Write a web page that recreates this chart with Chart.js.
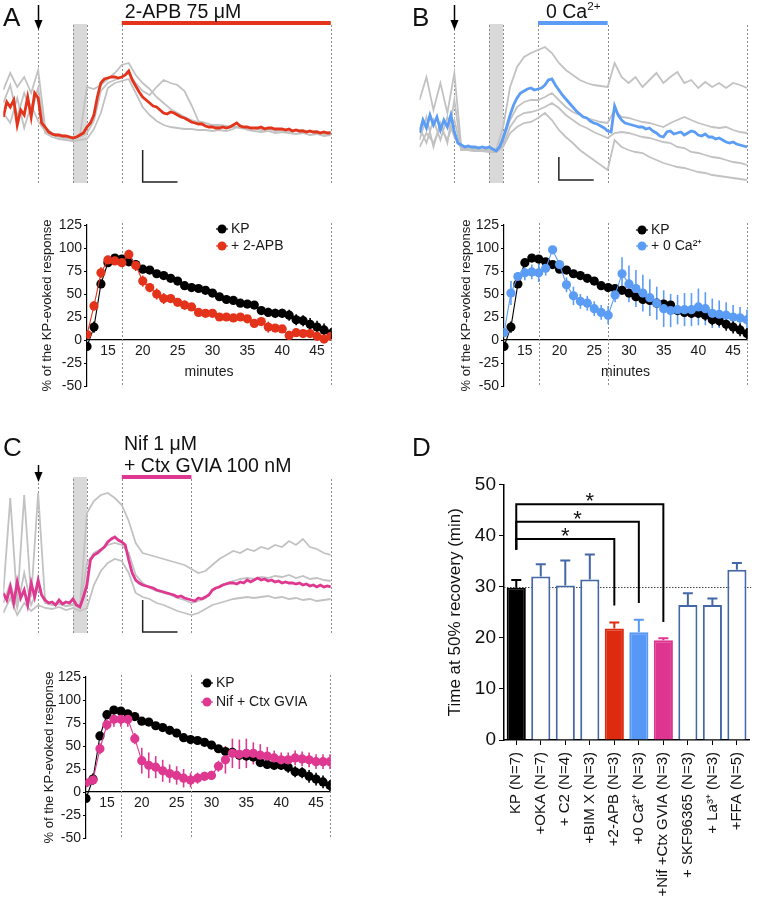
<!DOCTYPE html>
<html><head><meta charset="utf-8">
<script src="https://cdn.jsdelivr.net/npm/chart.js@4.4.1/dist/chart.umd.min.js"></script>
<style>
html,body{margin:0;padding:0;background:#fff}
body{width:762px;height:918px;position:relative;overflow:hidden;font-family:"Liberation Sans",Arial,Helvetica,sans-serif;color:#111}
canvas{position:absolute}
.t{position:absolute;white-space:nowrap;line-height:1}
.let{font-size:26px}
sup{font-size:0.6em;vertical-align:0.7em;line-height:0}
</style></head><body>
<canvas id="ta" width="340" height="190" style="left:0;top:0"></canvas>
<canvas id="tb" width="382" height="190" style="left:380px;top:0"></canvas>
<canvas id="tc" width="340" height="210" style="left:0;top:430px"></canvas>
<canvas id="la" width="340" height="190" style="left:0;top:212px"></canvas>
<canvas id="lb" width="342" height="190" style="left:420px;top:212px"></canvas>
<canvas id="lc" width="340" height="190" style="left:0;top:664px"></canvas>
<canvas id="bd" width="332" height="448" style="left:430px;top:470px"></canvas>
<div class="t let" style="left:3px;top:3.6px">A</div>
<div class="t let" style="left:412px;top:3.6px">B</div>
<div class="t let" style="left:3px;top:433.6px">C</div>
<div class="t let" style="left:412px;top:433.6px">D</div>
<div class="t" style="left:183px;top:1.5px;font-size:19.5px;transform:translateX(-50%)">2-APB 75 μM</div>
<div class="t" style="left:546px;top:1.5px;font-size:19.5px">0 Ca<sup>2+</sup></div>
<div class="t" style="left:124px;top:433.5px;font-size:19.5px">Nif 1 μM</div>
<div class="t" style="left:124px;top:455.5px;font-size:19.5px">+ Ctx GVIA 100 nM</div>
<script>
// ===================== DATA =====================
// Line plots (minutes 12..47)
const minutes = [12,13,14,15,16,17,18,19,20,21,22,23,24,25,26,27,28,29,30,31,32,33,34,35,36,37,38,39,40,41,42,43,44,45,46,47];
const xTickValues = [15,20,25,30,35,40,45];
const kpMean = [-7,14,61,84,89,88,85,82,77,76,72,70,67,64,59,57,56,54,51,47,44,43,40,39,38,32,30,29,29,27,22,21,17,14,11,7];
const kpErr  = [3,6,3,3,2,2,3,2,2,2,2,2,2,2,2,2,2,2,3,3,3,3,3,4,4,4,5,5,5,6,6,6,7,7,7,6];
const apbMean = [6,37,73,87,86,84,93,81,64,57,50,45,45,41,38,36,30,29,29,25,25,24,25,23,18,20,14,13,12,5,8,7,7,4,1,4];
const apbErr  = [4,5,6,4,3,4,5,6,6,5,6,6,3,4,5,4,3,3,3,3,3,3,3,3,3,4,6,4,4,5,4,3,3,3,4,3];
const caMean = [8,51,69,73,74,73,78,98,82,60,48,42,40,34,30,27,49,72,61,56,51,46,40,34,32,33,33,33,36,34,29,28,27,25,24,22];
const caErr  = [5,13,5,8,8,10,8,3,5,8,10,8,8,8,8,10,8,18,20,20,20,20,18,20,18,16,18,18,20,18,16,15,14,13,12,11];
const nifMean = [10,13,47,73,79,79,79,58,34,29,27,23,20,18,15,13,15,17,18,28,35,42,41,42,42,40,39,37,35,35,37,36,35,33,33,33];
const nifErr  = [3,4,6,6,8,8,8,6,14,14,12,12,10,10,10,8,6,5,5,6,15,16,16,16,12,12,10,8,8,8,8,8,8,8,8,8];
const lineMarksA = [17,47];
const lineMarksBC = [17,27,47];

// Traces (time 0..47 min; colored sampled every 0.5 min, gray every 1 min; arbitrary fluorescence units)
const traceStepColored = 0.5, traceStepGray = 1;
const traceA_red = [66,81,76,83,58,73,68,86,66,90, 85,60,56,51,49,48,48,47,47,46, 45,46,48,50,56,60,68,86,100,104,
 105,106,106,105,106,108,112,103,97,91, 86,83,80,77,76,73,70,69,71,70, 68,66,65,63,61,60,59,59,57,56,
 56,55,55,56,55,56,58,60,57,56, 56,55,55,55,56,54,55,55,54,54, 54,53,54,52,53,52,52,51,52,51, 51,50,51,50,50];
const traceA_gray1 = [93,110,96,106,90,113,56,50,48,47, 46,47,96,94,98,104,110,118,120,108, 100,94,86,80,74,70,66,63,61,60, 58,58,57,56,56,55,55,54,55,53, 54,53,52,53,51,52,50,51];
const traceA_gray2 = [70,60,85,55,78,62,52,48,46,45, 44,46,50,62,92,100,103,106,110,100, 92,88,96,103,100,98,92,78,62,60, 57,56,55,56,55,54,55,53,54,52, 53,51,52,50,51,50,49,50];
const traceA_gray3 = [80,98,66,90,70,95,50,46,44,43, 42,43,44,54,70,95,100,102,104,90, 76,68,62,58,56,55,54,54,53,53, 52,53,52,54,58,53,52,51,52,50, 51,50,49,50,48,49,47,48];
const traceB_blue = [50,63,55,68,58,66,53,63,56,68, 51,40,38,36,37,36,36,35,36,35, 36,34,32,36,45,56,68,78,85,90,
 92,94,95,93,94,95,98,103,104,98, 93,88,84,80,76,72,69,66,65,62, 60,59,57,55,52,51,77,68,63,60,
 59,58,57,56,56,54,55,52,50,47, 46,51,52,49,50,51,48,50,52,51, 48,47,49,46,46,44,45,43,41,40, 41,39,38,37,36];
const traceB_gray1 = [83,106,73,100,70,110,36,36,35,36, 35,33,56,96,116,126,130,133,136,130, 120,113,108,103,100,98,97,96,120,106, 100,106,96,103,110,100,106,111,100,103, 95,101,96,100,95,100,98,95];
const traceB_gray2 = [56,40,63,43,66,46,35,34,34,33, 33,31,43,63,76,81,83,83,86,90, 83,76,71,68,65,63,61,60,73,66, 65,63,61,60,58,56,60,63,66,63, 60,58,56,55,56,53,51,50];
const traceB_gray3 = [43,66,36,60,40,83,33,33,32,32, 31,31,38,56,66,70,71,73,76,80, 75,68,63,58,55,51,48,45,50,51, 50,48,46,45,43,41,40,36,35,31, 30,28,26,25,23,21,20,18];
const traceB_gray4 = [36,50,40,56,43,63,33,33,32,33, 32,31,36,50,56,60,61,65,70,63, 53,46,40,33,28,23,18,13,43,36, 33,31,30,26,23,20,18,16,15,13, 11,10,8,7,6,5,4,3];
const traceC_pink = [40,33,46,30,51,35,43,28,50,36, 53,38,33,30,31,28,33,29,31,30, 34,28,26,36,48,73,78,80,83,86,
 91,94,96,93,91,88,73,60,53,50, 48,47,46,45,43,42,41,40,39,38, 36,37,35,34,33,32,35,34,36,38,
 43,45,46,48,49,50,50,49,51,50, 53,51,53,55,53,54,52,53,51,52, 50,51,50,50,49,50,48,49,47,48, 46,48,46,47,46];
const traceC_gray1 = [40,135,30,138,36,140,32,28,29,27, 28,26,120,132,138,140,135,128,112,90, 80,78,76,74,72,70,68,64,60,62, 68,74,78,82,80,84,82,86,84,88, 86,92,88,94,86,84,80,78];
const traceC_gray2 = [30,50,25,60,28,45,30,28,30,27, 29,25,70,80,84,88,90,88,80,58, 50,45,42,40,38,35,33,30,32,35, 42,47,50,52,54,55,54,56,55,57, 56,58,55,57,54,55,53,52];
const traceC_gray3 = [20,35,18,30,22,28,25,24,26,23, 25,22,25,48,62,70,74,72,60,40, 36,34,30,28,25,22,20,18,20,24, 28,30,32,34,35,36,35,36,37,35, 36,34,35,33,34,32,33,34];
// trace events (min)
const kpApplication = 5;
const stimBox = [10,12];
const traceMarksA = [5,10,12,17,47];
const traceMarksBC = [5,10,12,17,27,47];
const drugA = [17,47], drugB = [17,27], drugC = [17,27];
const scaleBarMin = [20,25];

// Bar chart D
const barLabels = ["KP (N=7)","+OKA (N=7)","+ C2 (N=4)","+BIM X (N=3)","+2-APB (N=3)","+0 Ca\u00B2\u207A (N=3)","+Nif +Ctx GVIA (N=3)","+ SKF96365 (N=3)","+ La\u00B3\u207A (N=3)","+FFA (N=5)"];
const barMeans = [29.8,32.0,30.2,31.4,21.8,21.1,19.5,26.4,26.4,33.3];
const barErrs  = [1.5,2.4,4.9,4.9,1.2,2.4,0.4,2.3,1.3,1.3];
const refLevel = 30;
const sigTargets = [4,5,6];
const sigLevels = [39.3,42.7,46.1];
const sigEnds = [26.3,26.8,23.1];
const sigStart = 37.2;

// ===================== STYLE =====================
const C_RED='#e4331b', C_BLUE='#5b9cf5', C_PINK='#df3890', C_GRAY='#c2c2c2', C_EDGE='#4467a7';
Chart.defaults.font.family = "'Liberation Sans', Arial, Helvetica, sans-serif";
Chart.defaults.color = '#1a1a1a';

// ===================== TRACES =====================
const traceDecor = {
  id:'traceDecor',
  beforeDatasetsDraw(chart, args, o){
    const {ctx, scales:{x,y}} = chart;
    ctx.save();
    const x0=x.getPixelForValue(stimBox[0]), x1=x.getPixelForValue(stimBox[1]);
    const yb=y.getPixelForValue(o.lineRange[0]), yt=y.getPixelForValue(o.lineRange[1]);
    ctx.fillStyle='#d9d9d9'; ctx.fillRect(x0, yt, x1-x0, yb-yt);
    ctx.strokeStyle='#8c8c8c'; ctx.lineWidth=1; ctx.setLineDash([2,2]);
    o.marks.forEach(t=>{ const px=Math.round(x.getPixelForValue(t))+0.5; ctx.beginPath(); ctx.moveTo(px, yb); ctx.lineTo(px, yt); ctx.stroke(); });
    ctx.restore();
  },
  afterDatasetsDraw(chart, args, o){
    const {ctx, scales:{x,y}} = chart;
    ctx.save();
    ctx.strokeStyle=o.drugColor; ctx.lineWidth=4; ctx.lineCap='butt';
    ctx.beginPath(); ctx.moveTo(x.getPixelForValue(o.drug[0]), y.getPixelForValue(o.drugLevel)); ctx.lineTo(x.getPixelForValue(o.drug[1]), y.getPixelForValue(o.drugLevel)); ctx.stroke();
    const ax=Math.round(x.getPixelForValue(kpApplication))+0.5, ay0=y.getPixelForValue(o.arrow[0]), ay1=y.getPixelForValue(o.arrow[1]);
    ctx.strokeStyle='#000'; ctx.fillStyle='#000'; ctx.lineWidth=1.5;
    ctx.beginPath(); ctx.moveTo(ax, ay0); ctx.lineTo(ax, ay1-8); ctx.stroke();
    ctx.beginPath(); ctx.moveTo(ax-4, ay1-10); ctx.lineTo(ax+4, ay1-10); ctx.lineTo(ax, ay1); ctx.closePath(); ctx.fill();
    const sx0=x.getPixelForValue(scaleBarMin[0]), sx1=x.getPixelForValue(scaleBarMin[1]);
    const sy0=y.getPixelForValue(o.scaleV[0]), sy1=y.getPixelForValue(o.scaleV[1]);
    ctx.strokeStyle='#222'; ctx.lineWidth=1.5;
    ctx.beginPath(); ctx.moveTo(sx0, sy1); ctx.lineTo(sx0, sy0); ctx.lineTo(sx1, sy0); ctx.stroke();
    ctx.restore();
  }
};
function xy(values, step){ return values.map((v,i)=>({x:i*step, y:v})); }
function traceChart(id, colored, color, grays, pad, ymax, decor){
  const ds=[{data:xy(colored,traceStepColored), borderColor:color, borderWidth:2.8}]
    .concat(grays.map(g=>({data:xy(g,traceStepGray), borderColor:C_GRAY, borderWidth:1.8})));
  ds.forEach(d=>{d.pointRadius=0; d.tension=0; d.fill=false;});
  return new Chart(document.getElementById(id), {
    type:'line', data:{datasets:ds},
    options:{responsive:false, animation:false, events:[], layout:{padding:pad},
      plugins:{legend:{display:false}, tooltip:{enabled:false}, traceDecor:decor},
      scales:{x:{type:'linear',min:0,max:47,display:false}, y:{min:0,max:ymax,display:false}}},
    plugins:[traceDecor]
  });
}
traceChart('ta', traceA_red, C_RED, [traceA_gray1,traceA_gray2,traceA_gray3], {left:3.3,right:9.2,top:3,bottom:7}, 180,
  {marks:traceMarksA, lineRange:[0,159], drug:drugA, drugColor:C_RED, drugLevel:160, arrow:[178,153], scaleV:[1,33]});
traceChart('tb', traceB_blue, C_BLUE, [traceB_gray1,traceB_gray2,traceB_gray3,traceB_gray4], {left:39.5,right:15,top:3,bottom:7}, 180,
  {marks:traceMarksBC, lineRange:[0,159], drug:drugB, drugColor:C_BLUE, drugLevel:160, arrow:[178,153], scaleV:[3,26]});
traceChart('tc', traceC_pink, C_PINK, [traceC_gray1,traceC_gray2,traceC_gray3], {left:3.3,right:9.2,top:3,bottom:7}, 200,
  {marks:traceMarksBC, lineRange:[0,156], drug:drugC, drugColor:C_PINK, drugLevel:156, arrow:[168,151], scaleV:[1,33]});

// ===================== LINE PLOTS =====================
const lineDecor = {
  id:'lineDecor',
  beforeDatasetsDraw(chart, args, o){
    const {ctx, chartArea:ca, scales:{x,y}} = chart;
    ctx.save();
    ctx.strokeStyle='#8c8c8c'; ctx.lineWidth=1; ctx.setLineDash([2,2]);
    o.marks.forEach(t=>{ const px=Math.round(x.getPixelForValue(t))+0.5; ctx.beginPath(); ctx.moveTo(px, ca.top-2); ctx.lineTo(px, ca.bottom); ctx.stroke(); });
    ctx.setLineDash([]);
    chart.data.datasets.forEach(ds=>{
      ctx.strokeStyle=ds.borderColor; ctx.lineWidth=1.6;
      ds.data.forEach((v,j)=>{ const px=x.getPixelForValue(chart.data.labels[j]);
        ctx.beginPath(); ctx.moveTo(px, y.getPixelForValue(v+ds.errors[j])); ctx.lineTo(px, y.getPixelForValue(v-ds.errors[j])); ctx.stroke(); });
    });
    ctx.restore();
  },
  afterDraw(chart, args, o){
    const {ctx, chartArea:ca, scales:{x,y}} = chart;
    ctx.save();
    ctx.font="14px 'Liberation Sans', Arial, sans-serif"; ctx.textBaseline='middle'; ctx.textAlign='left';
    o.legend.forEach((it,k)=>{
      const cx=ca.left+o.legendAt[0], cy=ca.top+o.legendAt[1]+k*o.legendAt[2];
      ctx.strokeStyle=it.color; ctx.fillStyle=it.color; ctx.lineWidth=1.2;
      ctx.beginPath(); ctx.moveTo(cx-6,cy); ctx.lineTo(cx+6,cy); ctx.stroke();
      ctx.beginPath(); ctx.arc(cx,cy,4.5,0,Math.PI*2); ctx.fill();
      ctx.fillStyle='#1a1a1a'; ctx.fillText(it.text, cx+9, cy+0.5);
    });
    if(o.minutes){ ctx.textAlign='center'; ctx.fillStyle='#1a1a1a'; ctx.fillText('minutes', (ca.left+ca.right)/2, y.getPixelForValue(0)+32); }
    ctx.restore();
  }
};
function lineChart(id, mean, err, color, label, marks, pad, yWidth, legendAt, showMinutes){
  const mk=(data,errors,c)=>({data, errors, borderColor:c, backgroundColor:c, pointBackgroundColor:c, pointBorderColor:c, pointRadius:4.6, pointBorderWidth:0, borderWidth:1.1, tension:0});
  return new Chart(document.getElementById(id), {
    type:'line',
    data:{labels:minutes, datasets:[mk(mean,err,color), mk(kpMean,kpErr,'#000')]},
    options:{responsive:false, animation:false, events:[], layout:{padding:pad},
      plugins:{legend:{display:false}, tooltip:{enabled:false},
        lineDecor:{marks, legend:[{text:'KP',color:'#000'},{text:label,color}], legendAt, minutes:showMinutes}},
      scales:{
        x:{type:'linear', min:12, max:47, position:{y:0},
           afterBuildTicks(s){ s.ticks = xTickValues.map(v=>({value:v})); },
           grid:{display:false, drawTicks:false}, border:{display:true,color:'#000',width:1.2},
           ticks:{font:{size:14}, padding:3, color:'#1a1a1a', maxRotation:0}},
        y:{min:-50, max:125, ticks:{stepSize:25, font:{size:14}, padding:2, color:'#1a1a1a'},
           grid:{display:true, drawOnChartArea:false, drawTicks:true, tickLength:3, color:'#000'},
           border:{display:true,color:'#000',width:1.2},
           title:{display:true, text:'% of the KP-evoked response', font:{size:13}, color:'#1a1a1a', padding:{top:4,bottom:2}},
           afterFit(s){ s.width=yWidth; }}
      }},
    plugins:[lineDecor]
  });
}
lineChart('la', apbMean, apbErr, C_RED, '+ 2-APB', lineMarksA, {left:36,right:9,top:13,bottom:16}, 51, [135,4,17], true);
lineChart('lb', caMean, caErr, C_BLUE, '+ 0 Ca\u00B2\u207A', lineMarksBC, {left:35,right:15,top:13,bottom:16}, 49, [138,5,16], true);
lineChart('lc', nifMean, nifErr, C_PINK, 'Nif + Ctx GVIA', lineMarksBC, {left:38,right:10,top:13,bottom:16}, 48, [121,6,19], false);

// ===================== BAR CHART D =====================
const barFill = ['#000','#fff','#fff','#fff','#dd2b10','#5797f5','#dd3590','#fff','#fff','#fff'];
const barEdge = ['#000',C_EDGE,C_EDGE,C_EDGE,'#dd2b10','#5797f5','#dd3590',C_EDGE,C_EDGE,C_EDGE];
const barDecor = {
  id:'barDecor',
  beforeDatasetsDraw(chart){
    const {ctx, chartArea:ca, scales:{y}} = chart;
    ctx.save(); ctx.strokeStyle='#444'; ctx.lineWidth=1; ctx.setLineDash([1.5,1.5]);
    const py=Math.round(y.getPixelForValue(refLevel))+0.5;
    ctx.beginPath(); ctx.moveTo(ca.left, py); ctx.lineTo(ca.right+2, py); ctx.stroke(); ctx.restore();
  },
  afterDatasetsDraw(chart){
    const {ctx, scales:{x,y}} = chart;
    ctx.save(); ctx.lineWidth=2;
    barMeans.forEach((m,i)=>{
      const px=x.getPixelForValue(i), y0=y.getPixelForValue(m), y1=y.getPixelForValue(m+barErrs[i]);
      ctx.strokeStyle=barEdge[i];
      ctx.beginPath(); ctx.moveTo(px,y0); ctx.lineTo(px,y1); ctx.moveTo(px-5,y1); ctx.lineTo(px+5,y1); ctx.stroke();
    });
    ctx.fillStyle='#111'; ctx.font="22px 'Liberation Sans', Arial, sans-serif"; ctx.textAlign='center'; ctx.textBaseline='alphabetic';
    sigTargets.forEach((t,k)=>{
      const px=(x.getPixelForValue(0)+x.getPixelForValue(t))/2;
      ctx.fillText('*', px, y.getPixelForValue(sigLevels[k])+4);
    });
    ctx.restore();
  }
};
const bracketSets = sigTargets.map((t,k)=>({
  type:'line',
  data:[{x:barLabels[0],y:sigStart},{x:barLabels[0],y:sigLevels[k]},{x:barLabels[t],y:sigLevels[k]},{x:barLabels[t],y:sigEnds[k]}],
  borderColor:'#000', borderWidth:2, pointRadius:0, tension:0, fill:false, order:0
}));
new Chart(document.getElementById('bd'), {
  type:'bar',
  data:{labels:barLabels, datasets:[{type:'bar', data:barMeans, backgroundColor:barFill, borderColor:barEdge, borderWidth:2, barPercentage:0.78, categoryPercentage:1, order:1}].concat(bracketSets)},
  options:{responsive:false, animation:false, events:[], layout:{padding:{left:11,right:2,top:13,bottom:0}},
    plugins:{legend:{display:false}, tooltip:{enabled:false}},
    scales:{
      x:{grid:{display:true, offset:false, drawOnChartArea:false, drawTicks:true, tickLength:5, color:'#000'},
         border:{display:true,color:'#000',width:1.5},
         ticks:{minRotation:90, maxRotation:90, autoSkip:false, font:{size:15}, padding:7, color:'#111'},
         afterFit(s){ s.height=178; }},
      y:{min:0, max:50, ticks:{stepSize:10, font:{size:19}, padding:3, color:'#111'},
         grid:{display:true, drawOnChartArea:false, drawTicks:true, tickLength:5, color:'#000'},
         border:{display:true,color:'#000',width:1.5},
         title:{display:true, text:'Time at 50% recovery (min)', font:{size:17}, color:'#111', padding:{top:4,bottom:2}},
         afterFit(s){ s.width=63; }}
    }},
  plugins:[barDecor]
});
</script>
</body></html>
